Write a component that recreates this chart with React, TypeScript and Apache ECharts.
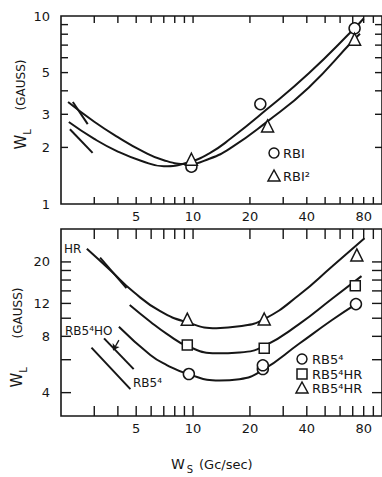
import React, { useEffect, useRef } from 'react';
import * as echarts from 'echarts';

// ---- axis ticks / labels ----
const xTicks = [3, 4, 5, 6, 7, 8, 9, 10, 20, 30, 40, 50, 60, 70, 80, 90];
const xLabels = [5, 10, 20, 40, 80];
const topYTicks = [2, 3, 4, 5, 6, 7, 8, 9];
const topYLabels = [1, 2, 3, 5, 10];
const botYTicks = [4, 6, 8, 10, 12, 14, 16, 18, 20];
const botYLabels = [4, 8, 12, 20];
const xRange = [2, 100];
const topYRange = [1, 10];
const botYRange = [3, 30];

// ---- top panel (RBI) ----
const topCurveA = [[2.18, 3.49], [3.0, 2.74], [4.0, 2.27], [5.3, 1.93], [7.0, 1.71], [9.3, 1.63], [12.2, 1.74], [16, 2.0], [24.3, 2.71], [41, 4.17], [70.7, 7.45], [76.5, 8.05]];
const topCurveB = [[2.2, 2.73], [3.0, 2.22], [4.0, 1.9], [5.3, 1.7], [7.0, 1.59], [9.3, 1.66], [12.2, 1.86], [16, 2.25], [24.3, 3.16], [41, 4.96], [70.7, 8.5], [80, 9.7]];
const topSeg1 = [[2.31, 3.49], [2.77, 2.66]];
const topSeg2 = [[2.23, 2.5], [2.94, 1.87]];
const rbiCircles = [[9.8, 1.58], [22.7, 3.4], [71.6, 8.6]];
const rbi2Triangles = [[9.8, 1.73], [24.8, 2.6], [71.6, 7.52]];

// ---- bottom panel (RB5^4) ----
const botCurveHR = [[2.74, 23.5], [3.66, 18.0], [4.85, 13.8], [6.7, 10.9], [9.32, 9.5], [13.3, 8.85], [17.6, 9.05], [23.8, 9.9], [36.4, 13.3], [54.4, 18.9], [80.8, 26.8]];
const botCurveMid = [[4.62, 11.77], [5.94, 9.58], [7.26, 8.25], [9.32, 7.1], [13.3, 6.49], [17.6, 6.56], [23.8, 7.1], [36.4, 9.3], [54.4, 12.7], [77.9, 16.8]];
const botCurveLow = [[4.05, 9.0], [5.94, 6.36], [7.26, 5.62], [9.5, 5.01], [13.8, 4.64], [17.6, 4.72], [23.4, 5.29], [36.4, 7.3], [54.4, 9.78], [72.8, 11.9]];
const botSegA = [[3.22, 21.1], [4.44, 14.5]];
const botSegB = [[3.38, 7.8], [4.85, 5.34]];
const botSegC = [[2.9, 6.96], [4.66, 4.18]];
const botArrow = [[4.05, 7.64], [3.78, 6.74]];
const rb5Circles = [[9.5, 5.03], [23.4, 5.35], [23.4, 5.6], [72.8, 11.9]];
const rb5HRSquares = [[9.32, 7.2], [23.8, 6.9], [72.2, 14.9]];
const rb5HRTriangles = [[9.32, 9.88], [23.8, 9.9], [73.6, 21.8]];

const C = '#161616';
const FONT = '"DejaVu Sans", sans-serif';

function textEl(text: string, x: number, y: number, size: number, align = 'center', rot = 0) {
  return {
    type: 'text', x, y, rotation: rot,
    style: { text, fill: C, font: `${size}px ${FONT}`, textAlign: align, textVerticalAlign: 'middle', align, verticalAlign: 'middle' },
  };
}

function xTickSeries(gi: number, yr: number[], len: number) {
  return {
    type: 'custom', xAxisIndex: gi, yAxisIndex: gi, silent: true, z: 5, clip: false,
    data: xTicks.map((v) => [v, yr[0]]),
    renderItem: (_p: any, api: any) => {
      const v = api.value(0);
      const b = api.coord([v, yr[0]]);
      const t = api.coord([v, yr[1]]);
      return {
        type: 'group', children: [
          { type: 'line', shape: { x1: b[0], y1: b[1], x2: b[0], y2: b[1] - len }, style: { stroke: C, lineWidth: 1.4 } },
          { type: 'line', shape: { x1: t[0], y1: t[1], x2: t[0], y2: t[1] + len }, style: { stroke: C, lineWidth: 1.4 } },
        ],
      };
    },
  };
}

function yTickSeries(gi: number, ticks: number[], len: number) {
  return {
    type: 'custom', xAxisIndex: gi, yAxisIndex: gi, silent: true, z: 5, clip: false,
    data: ticks.map((v) => [xRange[0], v]),
    renderItem: (_p: any, api: any) => {
      const v = api.value(1);
      const l = api.coord([xRange[0], v]);
      const r = api.coord([xRange[1], v]);
      return {
        type: 'group', children: [
          { type: 'line', shape: { x1: l[0], y1: l[1], x2: l[0] + len, y2: l[1] }, style: { stroke: C, lineWidth: 1.4 } },
          { type: 'line', shape: { x1: r[0], y1: r[1], x2: r[0] - len, y2: r[1] }, style: { stroke: C, lineWidth: 1.4 } },
        ],
      };
    },
  };
}

function xLabelSeries(gi: number, yr: number[]) {
  return {
    type: 'custom', xAxisIndex: gi, yAxisIndex: gi, silent: true, z: 5, clip: false,
    data: xLabels.map((v) => [v, yr[0]]),
    renderItem: (_p: any, api: any) => {
      const v = api.value(0);
      const b = api.coord([v, yr[0]]);
      return textEl(String(v), b[0], b[1] + 12, 13);
    },
  };
}

function yLabelSeries(gi: number, labels: number[]) {
  return {
    type: 'custom', xAxisIndex: gi, yAxisIndex: gi, silent: true, z: 5, clip: false,
    data: labels.map((v) => [xRange[0], v]),
    renderItem: (_p: any, api: any) => {
      const v = api.value(1);
      const l = api.coord([xRange[0], v]);
      return textEl(String(v), l[0] - 11, l[1], 13, 'right');
    },
  };
}

function curve(gi: number, data: number[][], smooth: number | boolean = 0.5) {
  return {
    type: 'line', xAxisIndex: gi, yAxisIndex: gi, data, smooth, showSymbol: false, silent: true, z: 3,
    lineStyle: { color: C, width: 2 },
  };
}

function markers(gi: number, data: number[][], symbol: string, size: number) {
  return {
    type: 'scatter', xAxisIndex: gi, yAxisIndex: gi, data, symbol, symbolSize: size, silent: true, z: 4,
    itemStyle: { color: '#fff', borderColor: C, borderWidth: 1.5, opacity: 1 },
  };
}

export default function App() {
  const ref = useRef<HTMLDivElement>(null);
  useEffect(() => {
    const chart = echarts.init(ref.current!, null, { renderer: 'svg' });
    const axisBase = {
      type: 'log', logBase: 10,
      axisLine: { show: false }, axisTick: { show: false }, axisLabel: { show: false }, splitLine: { show: false },
    };
    const gridBase = { show: true, borderColor: C, borderWidth: 1.6, backgroundColor: 'transparent', containLabel: false };
    const option: any = {
      animation: false,
      backgroundColor: '#fff',
      grid: [
        { ...gridBase, left: 61, top: 16, width: 322, height: 188 },
        { ...gridBase, left: 61, top: 229, width: 322, height: 187 },
      ],
      xAxis: [
        { ...axisBase, gridIndex: 0, min: xRange[0], max: xRange[1] },
        { ...axisBase, gridIndex: 1, min: xRange[0], max: xRange[1] },
      ],
      yAxis: [
        { ...axisBase, gridIndex: 0, min: topYRange[0], max: topYRange[1] },
        { ...axisBase, gridIndex: 1, min: botYRange[0], max: botYRange[1] },
      ],
      series: [
        xTickSeries(0, topYRange, 7),
        yTickSeries(0, topYTicks, 7),
        xLabelSeries(0, topYRange),
        yLabelSeries(0, topYLabels),
        xTickSeries(1, botYRange, 10),
        yTickSeries(1, botYTicks, 10),
        xLabelSeries(1, botYRange),
        yLabelSeries(1, botYLabels),
        curve(0, topCurveA),
        curve(0, topCurveB),
        curve(0, topSeg1, false),
        curve(0, topSeg2, false),
        markers(0, rbiCircles, 'circle', 11),
        markers(0, rbi2Triangles, 'triangle', 12),
        curve(1, botCurveHR),
        curve(1, botCurveMid),
        curve(1, botCurveLow),
        curve(1, botSegA, false),
        curve(1, botSegB, false),
        curve(1, botSegC, false),
        {
          type: 'lines', coordinateSystem: 'cartesian2d', xAxisIndex: 1, yAxisIndex: 1, silent: true, z: 4,
          symbol: ['none', 'arrow'], symbolSize: 6,
          lineStyle: { color: C, width: 1.3, opacity: 1 },
          data: [{ coords: botArrow }],
        },
        markers(1, rb5Circles, 'circle', 11),
        markers(1, rb5HRSquares, 'rect', 10),
        markers(1, rb5HRTriangles, 'triangle', 12),
      ],
      graphic: [
        // top y title
        textEl('(GAUSS)', 21, 85, 12, 'center', Math.PI / 2),
        textEl('W', 21, 142, 15, 'center', Math.PI / 2),
        textEl('L', 27, 132, 10, 'center', Math.PI / 2),
        // bottom y title
        textEl('(GAUSS)', 18, 313, 12, 'center', Math.PI / 2),
        textEl('W', 17, 380, 15, 'center', Math.PI / 2),
        textEl('L', 23, 370, 10, 'center', Math.PI / 2),
        // x title
        textEl('W', 178, 464, 14),
        textEl('S', 190, 469, 10),
        textEl('(Gc/sec)', 199, 464, 13, 'left'),
        // top legend
        { type: 'circle', shape: { cx: 274, cy: 153, r: 5 }, style: { fill: '#fff', stroke: C, lineWidth: 1.5 } },
        textEl('RBI', 283, 153, 13, 'left'),
        { type: 'polygon', shape: { points: [[274, 170], [268, 181], [280, 181]] }, style: { fill: '#fff', stroke: C, lineWidth: 1.5 } },
        textEl('RBI²', 283, 176, 13, 'left'),
        // bottom legend
        { type: 'circle', shape: { cx: 302, cy: 359, r: 5 }, style: { fill: '#fff', stroke: C, lineWidth: 1.5 } },
        textEl('RB5⁴', 312, 359, 13, 'left'),
        { type: 'rect', shape: { x: 297, y: 369, width: 10, height: 10 }, style: { fill: '#fff', stroke: C, lineWidth: 1.5 } },
        textEl('RB5⁴HR', 312, 374, 13, 'left'),
        { type: 'polygon', shape: { points: [[302, 382], [296, 393], [308, 393]] }, style: { fill: '#fff', stroke: C, lineWidth: 1.5 } },
        textEl('RB5⁴HR', 312, 388, 13, 'left'),
        // in-plot annotations
        textEl('HR', 64, 249, 12, 'left'),
        textEl('RB5⁴HO', 65, 331, 12, 'left'),
        textEl('RB5⁴', 133, 383, 12, 'left'),
      ],
    };
    chart.setOption(option);
    return () => chart.dispose();
  }, []);
  return <div ref={ref} style={{ position: 'fixed', left: 0, top: 0, width: 382, height: 477, background: '#fff' }} />;
}
